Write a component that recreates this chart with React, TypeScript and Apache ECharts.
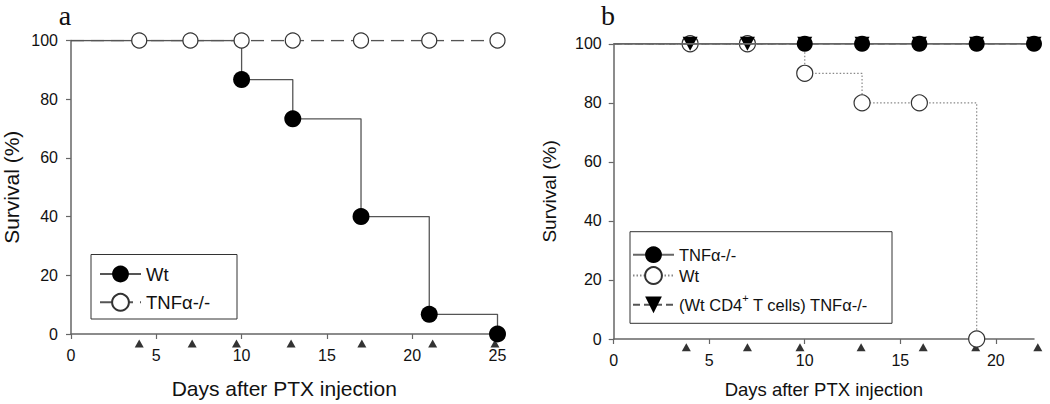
import React, { useEffect, useRef } from "react";
import * as echarts from "echarts";

// ---- Panel a ----
const A_WT_DAYS = [0, 10, 13, 17, 21, 25];
const A_WT_SURV = [100, 86.7, 73.3, 40, 6.7, 0];
const A_TNF_DAYS = [0, 4, 7, 10, 13, 17, 21, 25];
const A_TNF_SURV = [100, 100, 100, 100, 100, 100, 100, 100];
const A_PTX_DAYS = [4, 7.1, 9.7, 12.9, 17.05, 21.2, 24.85];
const A_PTX_LEVEL = -3.2;
const A_X_TICKS = [0, 5, 10, 15, 20, 25];

// ---- Panel b ----
const B_TNF_DAYS = [0, 10, 13, 16, 19, 22];
const B_TNF_SURV = [100, 100, 100, 100, 100, 100];
const B_WT_DAYS = [0, 4, 7, 10, 13, 16, 19];
const B_WT_SURV = [100, 100, 100, 90, 80, 80, 0];
const B_CD4_DAYS = [0, 4, 7, 10, 13, 16, 19, 22];
const B_CD4_SURV = [100, 100, 100, 100, 100, 100, 100, 100];
const B_PTX_DAYS = [3.8, 7.0, 9.75, 12.95, 16.2, 18.95, 22.2];
const B_PTX_LEVEL = -2.8;
const B_X_TICKS = [0, 5, 10, 15, 20];

const Y_TICKS = [0, 20, 40, 60, 80, 100];

const X_NAME = "Days after PTX injection";
const Y_NAME = "Survival (%)";

const FONT = "Liberation Sans, Arial, sans-serif";
const SERIF = "Liberation Serif, Times New Roman, serif";
const AXIS_COLOR = "#666";
const LINE_COLOR = "#555";
const DOWN_TRI = "path://M0,0L10,0L5,10Z";

function pts(days: number[], surv: number[]) {
  return days.map((d, i) => {
    const item: any = { value: [d, surv[i]] };
    if (i === 0) item.symbol = "none";
    return item;
  });
}

function xAxisCfg(grid: number, max: number, ticks: number[], nameSize: number, nameGap: number) {
  return {
    gridIndex: grid,
    type: "value",
    min: 0,
    max,
    interval: 5,
    name: X_NAME,
    nameLocation: "middle",
    nameGap,
    nameTextStyle: { fontSize: nameSize, color: "#111", fontFamily: FONT },
    axisLine: { show: true, onZero: false, lineStyle: { color: AXIS_COLOR, width: 1.5 } },
    axisTick: { show: true, length: 5, customValues: ticks, lineStyle: { color: AXIS_COLOR, width: 1.2 } },
    axisLabel: { show: true, margin: 13, fontSize: 16, color: "#111", fontFamily: FONT, customValues: ticks },
    splitLine: { show: false },
  };
}

function yAxisCfg(grid: number, nameSize: number, nameGap: number, margin: number) {
  return {
    gridIndex: grid,
    type: "value",
    min: 0,
    max: 100,
    interval: 20,
    name: Y_NAME,
    nameLocation: "middle",
    nameGap,
    nameTextStyle: { fontSize: nameSize, color: "#111", fontFamily: FONT },
    axisLine: { show: true, onZero: false, lineStyle: { color: AXIS_COLOR, width: 1.5 } },
    axisTick: { show: true, length: 5, customValues: Y_TICKS, lineStyle: { color: AXIS_COLOR, width: 1.2 } },
    axisLabel: { show: true, margin, fontSize: 16, color: "#111", fontFamily: FONT, customValues: Y_TICKS },
    splitLine: { show: false },
  };
}

function legendItem(name: string, label: string, left: number, centerY: number, fontSize: number, rich?: any) {
  return {
    data: [name],
    left,
    top: centerY - 10.5,
    orient: "vertical",
    padding: 0,
    itemGap: 0,
    itemWidth: 41,
    itemHeight: 21,
    selectedMode: false,
    formatter: () => label,
    textStyle: { fontSize, color: "#111", fontFamily: FONT, rich },
  };
}

export default function App() {
  const ref = useRef<HTMLDivElement>(null);

  useEffect(() => {
    if (!ref.current) return;
    const chart = echarts.init(ref.current, undefined, { renderer: "svg" });

    const ptxA = A_PTX_DAYS.map((d) => [d, A_PTX_LEVEL]);
    const ptxB = B_PTX_DAYS.map((d) => [d, B_PTX_LEVEL]);

    const supRich = {
      n: { fontSize: 16.5, lineHeight: 24, fontFamily: FONT, color: "#111" },
      sup: { fontSize: 11, lineHeight: 13, verticalAlign: "top", fontFamily: FONT, color: "#111" },
    };

    chart.setOption({
      animation: false,
      backgroundColor: "#fff",
      grid: [
        { left: 70.5, top: 40.5, width: 427, height: 297.5, containLabel: false },
        { left: 613.7, top: 43.8, width: 420.3, height: 297.5, containLabel: false },
      ],
      xAxis: [xAxisCfg(0, 25, A_X_TICKS, 21, 44), xAxisCfg(1, 22, B_X_TICKS, 18.5, 41)],
      yAxis: [yAxisCfg(0, 21, 49, 13), yAxisCfg(1, 19, 55, 12)],
      legend: [
        legendItem("a:Wt", "Wt", 99, 275, 18.5),
        legendItem("a:TNF", "TNFα-/-", 99, 303.3, 18.5),
        legendItem("b:TNF", "TNFα-/-", 632, 256.7, 16.5),
        legendItem("b:Wt", "Wt", 632, 276.7, 16.5),
        {
          ...legendItem("b:CD4", "", 632, 303.3, 16.5, supRich),
          formatter: () => "{n|(Wt CD4}{sup|+}{n| T cells) TNFα-/-}",
        },
      ],
      graphic: [
        { type: "text", x: 65, y: 15.5, style: { text: "a", font: `28px ${SERIF}`, fill: "#111", textAlign: "center", verticalAlign: "middle" } },
        { type: "text", x: 608, y: 15.5, style: { text: "b", font: `28px ${SERIF}`, fill: "#111", textAlign: "center", verticalAlign: "middle" } },
        { type: "rect", shape: { x: 91, y: 254.5, width: 146, height: 64.5 }, style: { fill: "none", stroke: "#333", lineWidth: 1 }, z: 0 },
        { type: "rect", shape: { x: 630, y: 231.7, width: 262, height: 91.6 }, style: { fill: "none", stroke: "#333", lineWidth: 1 }, z: 0 },
      ],
      series: [
        {
          name: "a:Wt",
          type: "line",
          xAxisIndex: 0,
          yAxisIndex: 0,
          step: "end",
          data: pts(A_WT_DAYS, A_WT_SURV),
          symbol: "circle",
          symbolSize: 17,
          itemStyle: { color: "#000", borderColor: "#000", borderWidth: 0 },
          lineStyle: { color: LINE_COLOR, width: 1.3, type: "solid" },
          z: 2,
        },
        {
          name: "a:TNF",
          type: "line",
          xAxisIndex: 0,
          yAxisIndex: 0,
          data: pts(A_TNF_DAYS, A_TNF_SURV),
          symbol: "circle",
          symbolSize: 15,
          itemStyle: { color: "#fff", borderColor: "#333", borderWidth: 1.2 },
          lineStyle: { color: LINE_COLOR, width: 1.3, type: [13, 7] },
          z: 3,
        },
        {
          name: "a:PTX",
          type: "scatter",
          xAxisIndex: 0,
          yAxisIndex: 0,
          data: ptxA,
          symbol: "triangle",
          symbolSize: [9, 8],
          clip: false,
          silent: true,
          itemStyle: { color: "#000" },
        },
        {
          name: "b:TNF",
          type: "line",
          xAxisIndex: 1,
          yAxisIndex: 1,
          data: pts(B_TNF_DAYS, B_TNF_SURV),
          symbol: "circle",
          symbolSize: 16,
          itemStyle: { color: "#000", borderColor: "#000", borderWidth: 0 },
          lineStyle: { color: "#666", width: 1.8, type: "solid" },
          z: 5,
        },
        {
          name: "b:Wt",
          type: "line",
          xAxisIndex: 1,
          yAxisIndex: 1,
          step: "end",
          data: pts(B_WT_DAYS, B_WT_SURV),
          symbol: "circle",
          symbolSize: 16,
          itemStyle: { color: "#fff", borderColor: "#333", borderWidth: 1.2 },
          lineStyle: { color: "#888", width: 1.2, type: [1.5, 2] },
          z: 3,
        },
        {
          name: "b:CD4",
          type: "line",
          xAxisIndex: 1,
          yAxisIndex: 1,
          data: pts(B_CD4_DAYS, B_CD4_SURV),
          symbol: DOWN_TRI,
          symbolSize: [15, 14],
          itemStyle: { color: "#000", borderColor: "#000", borderWidth: 0 },
          lineStyle: { color: LINE_COLOR, width: 1.3, type: [7, 4] },
          z: 4,
        },
        {
          name: "b:PTX",
          type: "scatter",
          xAxisIndex: 1,
          yAxisIndex: 1,
          data: ptxB,
          symbol: "triangle",
          symbolSize: [9, 8],
          clip: false,
          silent: true,
          itemStyle: { color: "#000" },
        },
      ],
    });

    return () => chart.dispose();
  }, []);

  return (
    <div
      ref={ref}
      style={{ position: "absolute", left: 0, top: 0, width: 1050, height: 404, background: "#fff" }}
    />
  );
}
